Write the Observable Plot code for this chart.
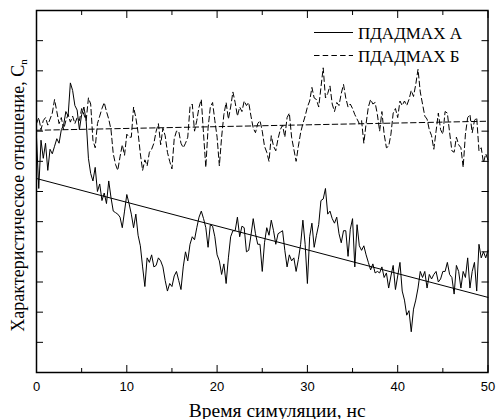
<!DOCTYPE html>
<html><head><meta charset="utf-8">
<script src="https://cdn.jsdelivr.net/npm/d3@7"></script>
<script src="https://cdn.jsdelivr.net/npm/@observablehq/plot@0.6"></script>
<style>
body{margin:0;background:#fff;}
#wrap{position:relative;width:496px;height:419px;}
</style></head><body><div id="wrap"></div>
<script>
// ---- data ----
const seriesNames = ["ПДАДМАХ А", "ПДАДМАХ Б"];
const xTitle = "Время симуляции, нс";
const yTitleMain = "Характеристическое отношение, C";
const yTitleSub = "n";
const xMajor = [0, 10, 20, 30, 40, 50];
const xMinor = [5, 15, 25, 35, 45];
const yTicks = [1, 2, 3, 4, 5, 6, 7, 8, 9, 10, 11];
const dt = 0.25; // ns between samples, starting at 0

const valuesA = [
  7.8, 6.1, 7.7, 7.1, 7.6, 6.7, 7.4, 7.25, 7.5, 7.75,
  7.6, 8.05, 8.2, 8.65, 8.5, 9.6, 9.35, 8.85, 8.7, 8.05,
  8.55, 8.8, 8.35, 7.1, 6.6, 6.35, 6.8, 6.0, 6.25, 5.7,
  5.95, 5.6, 6.35, 5.8, 5.35, 5.3, 5.25, 5.15, 4.8, 5.35,
  5.9,
  5.6, 5.25, 4.8, 5.25, 4.55, 4.2, 3.5, 2.85, 3.8, 3.65,
  3.9, 3.5, 3.55, 3.8, 3.7, 3.5, 3.05, 2.7, 2.95, 2.85,
  3.2, 3.35, 3.05, 2.75, 3.5, 4.0, 3.7, 4.25, 4.5, 4.4,
  4.8, 5.15, 5.35, 5.1, 4.8, 4.15, 4.9, 4.85, 4.5, 3.9,
  3.7, 3.25, 3.6, 2.95, 3.8, 4.5, 4.7, 4.7, 5.15, 4.5,
  4.85, 4.8, 4.0, 4.05, 4.55, 5.1, 4.6, 4.25, 4.25, 3.35,
  4.3, 4.8, 4.55, 5.05, 4.7, 4.25, 4.6, 4.65, 4.7, 4.05,
  3.5, 3.9, 3.7, 3.8, 3.35, 3.75, 4.25, 5.05, 4.25, 2.95,
  4.5, 4.95, 4.15, 4.55, 4.9, 5.7, 5.75, 6.1, 5.25, 5.35,
  5.1, 4.95, 5.15, 4.6, 4.3, 4.7, 4.7, 3.85, 4.75, 5.1,
  3.5, 4.9, 4.2, 4.05, 4.2, 3.9, 3.65, 3.4, 3.6, 3.3,
  3.35, 3.3, 3.5, 3.15, 3.3, 2.8, 3.2, 3.55, 2.75, 3.2,
  3.65, 2.7, 2.4, 1.9, 2.05, 1.35, 2.1, 2.4, 2.8, 3.35,
  3.15, 3.35, 2.8, 3.25, 3.1, 3.25, 3.35, 3.0, 3.1, 3.35,
  3.35, 3.65, 3.25, 3.15, 2.6, 3.55, 3.35, 2.8, 3.35, 3.15,
  3.8, 2.8, 3.35, 3.65, 2.7, 4.25, 3.8, 4.0, 3.8, 4.05
];

const valuesB = [
  8.25, 8.45, 8.05, 8.35, 8.45, 8.2, 8.4, 8.6, 9.05, 8.65,
  8.25, 8.45, 8.05, 8.35, 8.55, 8.3, 8.5, 8.25, 8.45, 8.35,
  8.75, 8.55, 8.35, 9.1, 8.9, 7.7, 7.45, 8.25, 8.5, 8.75,
  8.95, 8.65, 8.4, 8.05, 7.25, 6.9, 6.7, 7.15, 7.55, 7.2,
  7.9,
  7.8, 7.8, 8.8, 8.45, 7.95, 7.25, 6.7, 7.05, 6.85, 7.3,
  7.4, 7.6, 8.0, 8.25, 7.55, 8.1, 7.85, 7.3, 7.0, 6.75,
  7.75, 8.0, 8.0, 7.6, 7.45, 7.6, 7.8, 8.8, 8.9, 8.0,
  8.35, 8.8, 9.05, 7.9, 6.8, 8.1, 8.8, 8.95, 8.35, 7.8,
  6.85, 7.8, 8.55, 8.95, 8.4, 8.8, 9.3, 8.95, 8.5, 8.8,
  8.65, 9.0, 8.85, 8.95, 8.5, 8.1, 7.95, 8.25, 8.35, 8.0,
  7.5, 7.3, 7.0, 7.85, 7.5, 7.35, 7.75, 8.05, 8.2, 7.8,
  8.45, 8.6, 7.8, 7.4, 7.0, 7.5, 7.95, 8.25, 8.5, 8.8,
  9.0, 9.45, 9.1, 9.05, 8.8, 9.45, 10.1, 9.1, 9.25, 9.5,
  8.9, 8.65, 8.95, 8.85, 9.25, 9.55, 9.1, 8.8, 8.9, 8.75,
  8.55, 8.4, 8.25, 8.35, 7.6, 8.25, 8.8, 9.05, 8.9, 8.95,
  8.55, 8.0, 8.65, 7.9, 7.45, 7.5, 7.9, 8.6, 8.75, 8.45,
  9.0, 8.85, 9.0, 8.85, 9.05, 9.35, 9.15, 9.55, 10.05, 9.3,
  8.9, 8.5, 8.4, 8.05, 7.85, 7.4, 8.0, 8.6, 8.05, 7.9,
  8.65, 8.6, 7.95, 7.35, 7.3, 7.8, 7.55, 7.45, 6.8, 7.9,
  8.45, 8.55, 7.95, 8.35, 8.45, 7.35, 7.45, 6.95, 7.25, 7.05
];

// linear fits (end points)
const fitX = [0, 50];
const fitA = [6.43, 2.49];
const fitB = [8.03, 8.33];

// ---- build tables ----
const dataA = valuesA.map((v, i) => ({t: i * dt, v}));
const dataB = valuesB.map((v, i) => ({t: i * dt, v}));
const fitAData = fitX.map((t, i) => ({t, v: fitA[i]}));
const fitBData = fitX.map((t, i) => ({t, v: fitB[i]}));

const serif = "'Liberation Serif', 'Times New Roman', serif";
const dash = "5.5,3.2";

const plot = Plot.plot({
  width: 496, height: 419,
  marginLeft: 36, marginRight: 8.5, marginTop: 10, marginBottom: 47,
  x: {domain: [0, 50]},
  y: {domain: [0, 12]},
  style: {fontFamily: "'Liberation Sans', Arial, sans-serif", fontSize: "13px", color: "black", background: "white"},
  marks: [
    Plot.line(dataB, {x: "t", y: "v", stroke: "black", strokeWidth: 1, strokeDasharray: dash}),
    Plot.line(dataA, {x: "t", y: "v", stroke: "black", strokeWidth: 1}),
    Plot.line(fitBData, {x: "t", y: "v", stroke: "black", strokeWidth: 1, strokeDasharray: dash}),
    Plot.line(fitAData, {x: "t", y: "v", stroke: "black", strokeWidth: 1}),
    Plot.axisX({anchor: "bottom", ticks: xMajor, tickSize: 7, dy: -7, fill: "none", label: null}),
    Plot.axisX({anchor: "bottom", ticks: xMinor, tickSize: 4, dy: -4, fill: "none", label: null}),
    Plot.axisX({anchor: "top", ticks: xMajor, tickSize: 7, dy: 7, fill: "none", label: null}),
    Plot.axisX({anchor: "top", ticks: xMinor, tickSize: 4, dy: 4, fill: "none", label: null}),
    Plot.axisY({anchor: "left", ticks: yTicks, tickSize: 7, dx: 7, fill: "none", label: null}),
    Plot.axisY({anchor: "right", ticks: yTicks, tickSize: 7, dx: -7, fill: "none", label: null}),
    Plot.axisX({anchor: "bottom", ticks: xMajor, tickSize: 0, tickPadding: 9.5, label: null, fill: "black", tickFormat: d => String(d)}),
    Plot.frame({stroke: "black", strokeWidth: 1.5}),
    Plot.text([xTitle], {text: d => d, frameAnchor: "bottom", dx: 15, dy: 44, lineAnchor: "bottom", fontSize: 19.5, fill: "black"}),
    Plot.text([yTitleMain + yTitleSub], {text: d => d, frameAnchor: "left", rotate: -90, dx: -12.7, dy: 4, lineAnchor: "bottom", textAnchor: "middle", fontSize: 18, fill: "black"})
  ]
});

document.getElementById("wrap").appendChild(plot);

const svg = d3.select(plot);
// serif titles + subscript on the y title
svg.selectAll("text").each(function() {
  const t = this.textContent;
  if (t === xTitle) {
    this.setAttribute("font-family", "Liberation Serif");
    this.style.fontFamily = serif;
  } else if (t === yTitleMain + yTitleSub) {
    this.setAttribute("font-family", "Liberation Serif");
    this.style.fontFamily = serif;
    const el = d3.select(this);
    el.text(yTitleMain);
    el.append("tspan").attr("font-size", 11).attr("dy", "0.3em").text(yTitleSub);
  }
});

// legend (inside plot, top right)
const legendRows = [{name: seriesNames[0], dash: null}, {name: seriesNames[1], dash: dash}];
const lg = svg.append("g").attr("class", "legend");
legendRows.forEach((r, i) => {
  const y = 32.5 + i * 23;
  lg.append("line").attr("x1", 314).attr("x2", 353).attr("y1", y).attr("y2", y)
    .attr("stroke", "black").attr("stroke-width", 1).attr("stroke-dasharray", r.dash);
  lg.append("text").attr("x", 358).attr("y", y + 6)
    .attr("font-family", "Liberation Serif")
    .style("font-family", serif).style("font-size", "17px").style("text-anchor", "start")
    .attr("fill", "black").text(r.name);
});
</script>
</body></html>
